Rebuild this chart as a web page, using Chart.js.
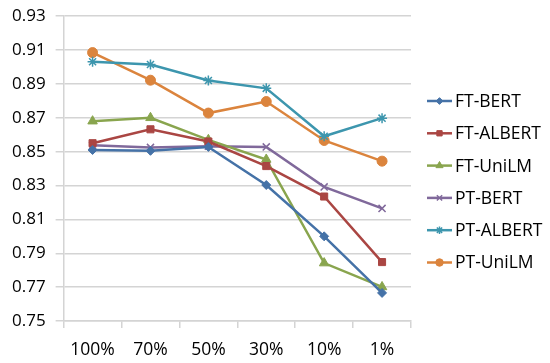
<!DOCTYPE html>
<html>
<head>
<meta charset="utf-8">
<script src="https://cdn.jsdelivr.net/npm/chart.js@4/dist/chart.umd.min.js"></script>
<style>
  html, body { margin: 0; padding: 0; background: #fff; overflow: hidden; }
  #wrap { width: 550px; height: 370px; margin-top: -4px; }
</style>
</head>
<body>
<div id="wrap"><canvas id="lineChart"></canvas></div>
<script>
var categories = ['100%', '70%', '50%', '30%', '10%', '1%'];
var seriesNames = ['FT-BERT', 'FT-ALBERT', 'FT-UniLM', 'PT-BERT', 'PT-ALBERT', 'PT-UniLM'];
var ftBert   = [0.851, 0.8505, 0.8528, 0.8303, 0.800, 0.7666];
var ftAlbert = [0.855, 0.8632, 0.856, 0.8415, 0.8235, 0.7848];
var ftUnilm  = [0.868, 0.870, 0.857, 0.8454, 0.7842, 0.7701];
var ptBert   = [0.8538, 0.8525, 0.8532, 0.8528, 0.8292, 0.8165];
var ptAlbert = [0.9031, 0.9015, 0.892, 0.8874, 0.8591, 0.8698];
var ptUnilm  = [0.9085, 0.8922, 0.8728, 0.8796, 0.8566, 0.8444];
var yTicks = [0.75, 0.77, 0.79, 0.81, 0.83, 0.85, 0.87, 0.89, 0.91, 0.93];

var colors = ['#4572A7', '#AA4643', '#89A54E', '#80699B', '#3D96AE', '#DB843D'];
var markers = ['rectRot', 'rect', 'triangle', 'crossRot', 'star', 'circle'];
var markerSizes = [4.5, 5, 5.5, 5, 5, 5];
var allValues = [ftBert, ftAlbert, ftUnilm, ptBert, ptAlbert, ptUnilm];

var datasets = seriesNames.map(function (name, i) {
    return {
        label: name,
        data: allValues[i],
        borderColor: colors[i],
        backgroundColor: colors[i],
        borderWidth: 2.5,
        pointStyle: markers[i],
        pointRadius: markerSizes[i],
        pointBorderWidth: (markers[i] == 'crossRot' || markers[i] == 'star') ? 1.5 : 1,
        pointBorderColor: colors[i],
        pointBackgroundColor: colors[i],
        tension: 0
    };
});

// legend drawn like Excel: short line with the marker in its middle
var excelLegend = {
    id: 'excelLegend',
    afterDraw: function (chart) {
        var ctx = chart.ctx;
        ctx.save();
        ctx.font = '17.5px "Open Sans", sans-serif';
        ctx.textBaseline = 'middle';
        ctx.textAlign = 'left';
        chart.data.datasets.forEach(function (ds, i) {
            var y = 105 + i * 32.3; // +4 for the canvas offset
            ctx.strokeStyle = ds.borderColor;
            ctx.lineWidth = 2.5;
            ctx.beginPath();
            ctx.moveTo(427, y);
            ctx.lineTo(452, y);
            ctx.stroke();
            ctx.lineWidth = ds.pointBorderWidth;
            ctx.fillStyle = ds.borderColor;
            Chart.helpers.drawPoint(ctx, {
                pointStyle: ds.pointStyle,
                radius: ds.pointRadius * 0.75,
                borderWidth: ds.pointBorderWidth
            }, 439.5, y);
            ctx.fillStyle = '#000';
            ctx.fillText(ds.label, 455, y + 1);
        });
        ctx.restore();
    }
};

var ctx = document.getElementById('lineChart');
var myLineChart = new Chart(ctx, {
    type: 'line',
    data: { labels: categories, datasets: datasets },
    options: {
        responsive: true,
        maintainAspectRatio: false,
        animation: false,
        layout: { padding: { top: -1, right: 139, left: 2, bottom: -7 } },
        plugins: {
            legend: { display: false },
            tooltip: { enabled: false }
        },
        scales: {
            x: {
                offset: true,
                grid: {
                    display: true,
                    offset: true,
                    drawOnChartArea: false,
                    drawTicks: true,
                    tickLength: 7,
                    color: '#d4d4d4',
                    lineWidth: 1.5
                },
                border: { color: '#d4d4d4', width: 1.5 },
                ticks: {
                    color: '#000',
                    font: { family: '"Open Sans", sans-serif', size: 17.5 },
                    padding: 12,
                    maxRotation: 0
                }
            },
            y: {
                min: 0.75,
                max: 0.93,
                afterBuildTicks: function (axis) {
                    axis.ticks = yTicks.map(function (v) { return { value: v }; });
                },
                grid: {
                    color: '#d4d4d4',
                    lineWidth: 1.5,
                    drawTicks: true,
                    tickLength: 8
                },
                border: { color: '#d4d4d4', width: 1.5 },
                ticks: {
                    color: '#000',
                    font: { family: '"Open Sans", sans-serif', size: 17 },
                    padding: 10,
                    callback: function (v) { return v.toFixed(2); }
                }
            }
        }
    },
    plugins: [excelLegend]
});
</script>
</body>
</html>
